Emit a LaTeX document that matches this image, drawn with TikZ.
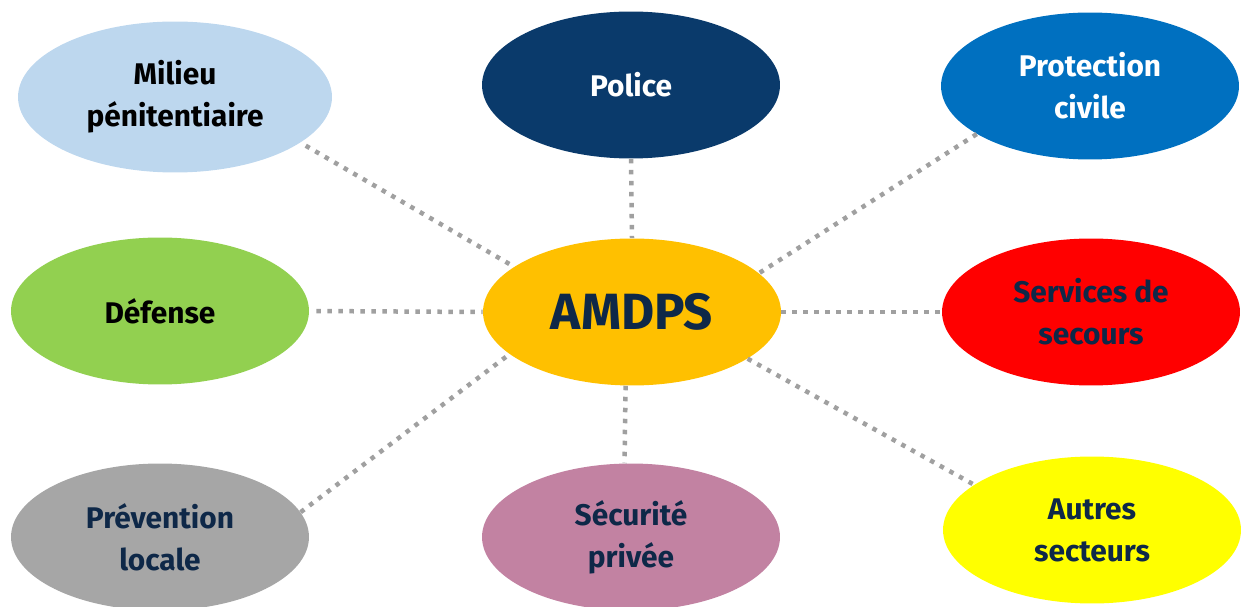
\documentclass[tikz,border=0pt]{standalone}
\usepackage{fontspec}
\setmainfont{Fira Sans}
\usepackage{tikz}
\usetikzlibrary{shapes.geometric}

\definecolor{clMilieu}{RGB}{189,215,238}
\definecolor{clPolice}{RGB}{10,58,107}
\definecolor{clProtect}{RGB}{0,112,192}
\definecolor{clDefense}{RGB}{146,208,80}
\definecolor{clAmdps}{RGB}{255,192,0}
\definecolor{clSecours}{RGB}{255,0,0}
\definecolor{clPrev}{RGB}{166,166,166}
\definecolor{clPrivee}{RGB}{194,130,162}
\definecolor{clAutres}{RGB}{255,255,0}
\definecolor{clNavy}{RGB}{14,40,72}
\definecolor{clDots}{RGB}{160,160,160}

\begin{document}
\begin{tikzpicture}[x=0.02cm, y=-0.02cm,
	bubble/.style={shape=ellipse, minimum width=5.96cm, minimum height=2.94cm, inner sep=0pt,
		align=center, font=\fontsize{17}{24}\selectfont\bfseries},
	link/.style={draw=clDots, line width=0.09cm, dash pattern=on 0.09cm off 0.13cm}]
	
	\useasboundingbox (0,0) rectangle (1243,607);
	
	\node[bubble, fill=clAmdps, text=clNavy, font=\fontsize{29}{32}\selectfont\bfseries] (amdps) at (632,312) {AMDPS};
	
	\node[bubble, fill=clMilieu, text=black, minimum width=6.28cm, minimum height=3.02cm] (milieu) at (175,97) {Milieu\\pénitentiaire};
	\node[bubble, fill=clPolice, text=white] (police) at (631,85) {Police};
	\node[bubble, fill=clProtect, text=white] (protect) at (1090,86) {Protection\\civile};
	
	\node[bubble, fill=clDefense, text=black] (defense) at (160,311) {Défense};
	\node[bubble, fill=clSecours, text=clNavy] (secours) at (1091,312) {Services de\\secours};
	
	\node[bubble, fill=clPrev, text=clNavy] (prev) at (160,537) {Prévention\\locale};
	\node[bubble, fill=clPrivee, text=clNavy] (privee) at (631,537) {Sécurité\\privée};
	\node[bubble, fill=clAutres, text=clNavy] (autres) at (1092,530) {Autres\\secteurs};
	
    \path[link, shorten <=0.12cm] (milieu.-20) edge (amdps.159);
    \path[link] (police.south) edge (amdps.north);
    \path[link] (protect.203) edge (amdps.17);
    
    \path[link, shorten <=0.14cm] (defense.east) edge (amdps.west);
    \path[link] (amdps.east) edge (secours.west);
    
    \path[link] (prev.10) edge (amdps.199);
    \path[link] (amdps.-95) edge (privee.95);
    \path[link] (amdps.-22) edge (autres.159);
    
\end{tikzpicture}
\end{document}
